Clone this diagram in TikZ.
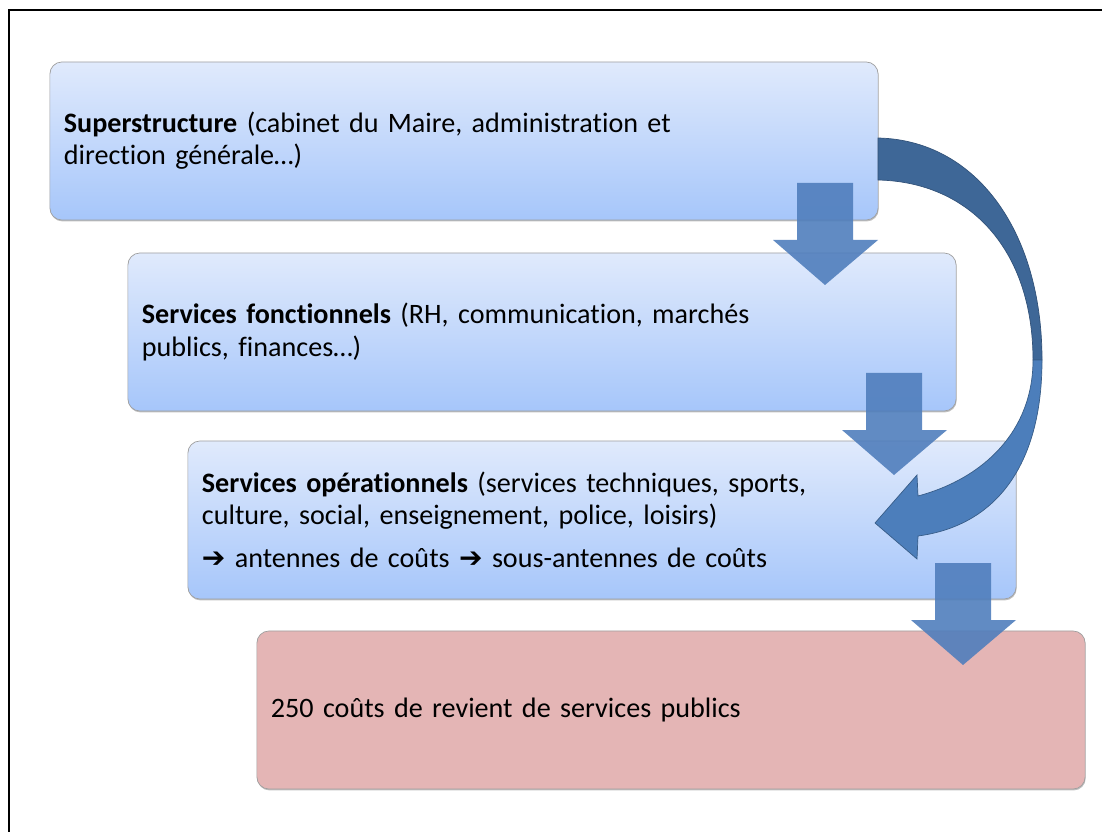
\documentclass[tikz,border=0pt]{standalone}
\usepackage{fontspec}
\setmainfont{Carlito}[Ligatures=NoCommon]
\newfontfamily\symbfont{DejaVu Sans}
\usepackage{tikz}
\usetikzlibrary{shadows}
\definecolor{haut}{RGB}{224,234,252}
\definecolor{bas}{RGB}{166,198,250}
\definecolor{rose}{RGB}{228,181,181}
\definecolor{flechebleu}{RGB}{80,126,188}
\definecolor{courbefonce}{RGB}{62,103,151}
\definecolor{courbeclair}{RGB}{76,126,187}
\tikzset{
niveau/.style={draw=gray!75, line width=0.5pt, rounded corners=0.3cm, minimum width=20.7cm, minimum height=3.95cm, text width=20cm, align=left, inner xsep=0.35cm, font=\fontsize{20}{22.8}\selectfont, drop shadow={shadow xshift=0.4pt, shadow yshift=-1pt, opacity=0.5}}, % one level of the cascade
bleu/.style={top color=haut, bottom color=bas}, % blue gradient boxes
flechebas/.style={fill=flechebleu, fill opacity=0.9, draw=none}, % straight block arrows
}

\begin{document}
\begin{tikzpicture}[x=0.025cm, y=-0.025cm]
        \useasboundingbox (0,0) rectangle (1102,832);
        \draw[line width=1.4pt] (9,832) -- (9,10) -- (1102,10);
        \node[niveau, bleu] at (464,141) (sup) {\textbf{Superstructure} (cabinet du Maire, administration et\\ direction générale…)};
        \node[niveau, bleu] at (542,332) (fonc) {\textbf{Services fonctionnels} (RH, communication, marchés\\ publics, finances…)};
        \node[niveau, bleu] at (602,520) (oper) {\textbf{Services opérationnels} (services techniques, sports,\\ culture, social, enseignement, police, loisirs)\\[0.27cm] {\symbfont ➔} antennes de coûts {\symbfont ➔} sous-antennes de coûts};
        \node[niveau, fill=rose] at (671,710) (couts) {250 coûts de revient de services publics};
        % block arrows between the levels
        \foreach \dx/\dy in {0/0, 69/190, 138/380}
            \fill[flechebas, shift={(\dx,\dy)}] (797,183) -- (853,183) -- (853,240) -- (878,240) -- (825,285) -- (773,240) -- (797,240) -- cycle;
        % curved arrow from the top level
        \filldraw[fill=courbefonce, draw=courbefonce!80!black, line width=0.5pt]
        (878,138) .. controls (975,140) and (1042,230) .. (1042,360) -- (1033,360) .. controls (1033,250) and (970,182) .. (878,180) -- cycle;
        \filldraw[fill=courbeclair, draw=courbefonce!90!black, line width=0.5pt]
        (1042,360) .. controls (1042,460) and (1000,525) .. (918,536) -- (917,559) -- (875,523) -- (917,475) -- (918,496) .. controls (985,478) and (1033,430) .. (1033,360) -- cycle;
    \end{tikzpicture}
\end{document}
